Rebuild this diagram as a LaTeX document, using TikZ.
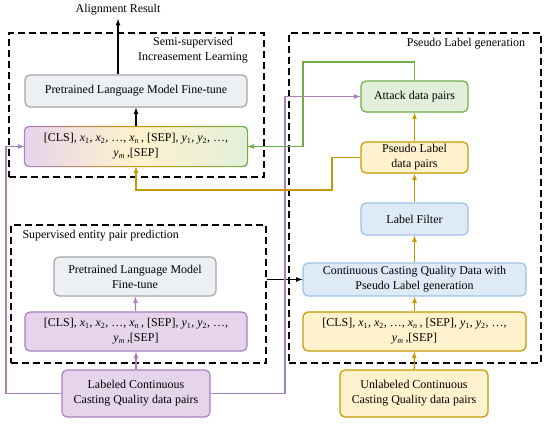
\documentclass[tikz,border=0pt]{standalone}
\usepackage{fontspec}
\setmainfont{Liberation Serif}
\usepackage{tikz}
\usetikzlibrary{arrows,calc}

\definecolor{violetline}{RGB}{168,128,190}
\definecolor{violetfill}{RGB}{230,212,234}
\definecolor{goldline}{RGB}{196,154,0}
\definecolor{goldfill}{RGB}{255,242,204}
\definecolor{greenline}{RGB}{112,173,71}
\definecolor{greenfill}{RGB}{226,239,218}
\definecolor{blueline}{RGB}{157,195,230}
\definecolor{bluefill}{RGB}{222,235,247}
\definecolor{plmline}{RGB}{166,166,166}
\definecolor{plmfill}{RGB}{236,239,243}

\newcommand{\tokseq}{[CLS], \textit{x}\textsubscript{1}, \textit{x}\textsubscript{2}, \dots, \textit{x}\textsubscript{\textit{n}}\,, [SEP], \textit{y}\textsubscript{1}, \textit{y}\textsubscript{2}, \dots,\\ \textit{y}\textsubscript{\textit{m}}\,,[SEP]}

\begin{document}
\begin{tikzpicture}[x=1bp, y=-1bp,
                    font=\fontsize{12}{15}\selectfont,
                    box/.style={rounded corners=5bp, draw, line width=1.2bp,
                                align=center, inner sep=1bp},
                    plmbox/.style={box, draw=plmline, fill=plmfill},
                    violetbox/.style={box, draw=violetline, fill=violetfill},
                    goldbox/.style={box, draw=goldline, fill=goldfill},
                    greenbox/.style={box, draw=greenline, fill=greenfill},
                    bluebox/.style={box, draw=blueline, fill=bluefill},
                    group/.style={draw, dash pattern=on 7bp off 4bp, line width=1.5bp,
                                  anchor=north west, inner sep=0pt},
                    link/.style={-latex, line width=1.2bp}]
    \useasboundingbox (0,0) rectangle (550,423);

    % chart semi-supervised
    \node[group, minimum width=255bp, minimum height=144bp] (semibox) at (8,32) {};
    \node[align=center] (semiTitle) at (193,50.5) {Semi-supervised\\Increasement Learning};
    \node (align) at (118,10) {Alignment Result};
    \node[plmbox, minimum width=222bp, minimum height=32bp] (plm1) at (136,91)
        {Pretrained Language Model Fine-tune};
    \node[box, draw=none, left color=violetfill, right color=greenfill, middle color=goldfill,
          minimum width=222bp, minimum height=39bp] (tok1) at (136,146.5) {\tokseq};
    % gradient border
    \shade[left color=violetline, right color=greenline, middle color=goldline,
           even odd rule, rounded corners=5bp]
        ($(tok1.north west)+(-0.6,-0.6)$) rectangle ($(tok1.south east)+(0.6,0.6)$)
        [rounded corners=4.4bp]
        ($(tok1.north west)+(0.6,0.6)$) rectangle ($(tok1.south east)+(-0.6,-0.6)$);

    % chart supervised
    \node[group, minimum width=255bp, minimum height=138bp] (supbox) at (10,224) {};
    \node[anchor=west] (supTitle) at (19,236) {Supervised entity pair prediction};
    \node[plmbox, minimum width=162bp, minimum height=39bp] (plm2) at (135,276.5)
        {Pretrained Language Model\\Fine-tune};
    \node[violetbox, minimum width=222bp, minimum height=39bp] (tok2) at (136,331.5) {\tokseq};
    \node[violetbox, minimum width=148bp, minimum height=47bp] (lab) at (136,393.5)
        {Labeled Continuous\\Casting Quality data pairs};

    % chart pseudo label
    \node[group, minimum width=252bp, minimum height=330bp] (pseudobox) at (288,32) {};
    \node (pseudoTitle) at (466,44) {Pseudo Label generation};
    \node[greenbox, minimum width=107bp, minimum height=31bp] (attack) at (414.5,96.5)
        {Attack data pairs};
    \node[goldbox, minimum width=107bp, minimum height=31bp] (pseudo) at (414.5,157.5)
        {Pseudo Label\\data pairs};
    \node[bluebox, minimum width=107bp, minimum height=32bp] (filter) at (414.5,219)
        {Label Filter};
    \node[bluebox, minimum width=223bp, minimum height=33bp] (cont) at (414.5,279.5)
        {Continuous Casting Quality Data with\\Pseudo Label generation};
    \node[goldbox, minimum width=223bp, minimum height=39bp] (tok3) at (414.5,331.5) {\tokseq};
    \node[goldbox, minimum width=148bp, minimum height=47bp] (unlab) at (414,393.5)
        {Unlabeled Continuous\\Casting Quality data pairs};

    % bends
    \coordinate (vl) at (6,146.5);
    \coordinate (vr) at (285,96.5);
    \coordinate (gt) at (303,62);
    \coordinate (yb) at (332,190);

    % links
    \draw[link] (tok1) -- (plm1);
    \draw[link] (align.south |- plm1.north) -- (align.south);
    \draw[link] (supbox.east |- cont.west) -- (cont.west);

    \draw[link, violetline] (lab) -- (tok2);
    \draw[link, violetline] (tok2) -- (plm2);
    \draw[link, violetline] (lab.west) -| (vl) -- (tok1.west);
    \draw[link, violetline] (lab.east) -| (vr) -- (attack.west);

    \draw[link, greenline] (attack.north) |- (gt) |- (tok1.east);
    \draw[link, goldline] (pseudo.west) -| (yb) -| (tok1.south);

    \draw[link, goldline] (unlab) -- (tok3);
    \draw[link, goldline] (tok3) -- (cont);
    \draw[link, goldline] (cont) -- (filter);
    \draw[link, goldline] (filter) -- (pseudo);
    \draw[link, goldline] (pseudo) -- (attack);
\end{tikzpicture}
\end{document}
